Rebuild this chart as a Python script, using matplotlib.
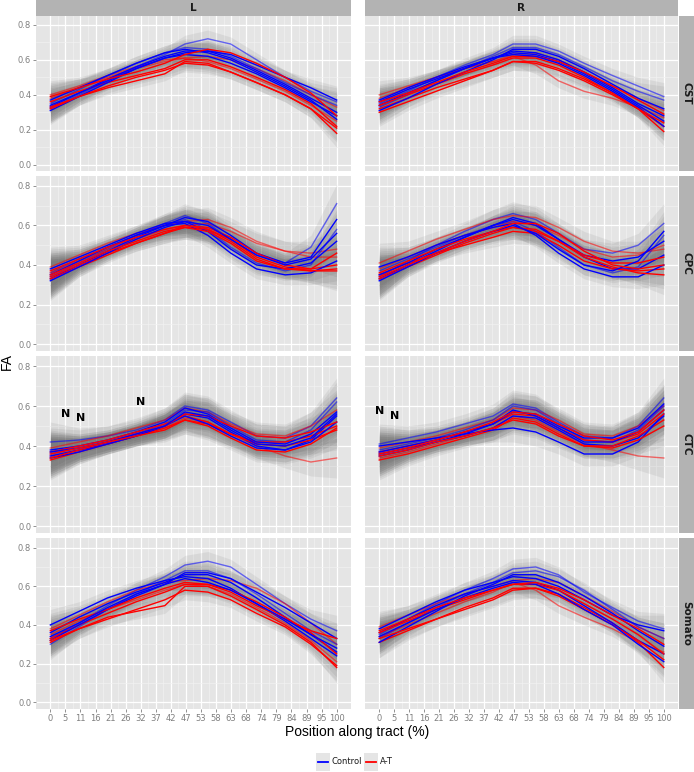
import numpy as np
import matplotlib
matplotlib.use('Agg')
import matplotlib.pyplot as plt
from matplotlib.lines import Line2D
from matplotlib.patches import Rectangle

# -- positions along the tract where each subject curve is read
XS = [0, 10, 20, 30, 40, 47, 55, 63, 72, 82, 91, 100]

XTICKS = [0, 5.26, 10.53, 15.79, 21.05, 26.32, 31.58, 36.84, 42.11, 47.37,
          52.63, 57.89, 63.16, 68.42, 73.68, 78.95, 84.21, 89.47, 94.74, 100]
XTICK_LABELS = ['0', '5', '11', '16', '21', '26', '32', '37', '42', '47',
                '53', '58', '63', '68', '74', '79', '84', '89', '95', '100']
YTICKS = [0.0, 0.2, 0.4, 0.6, 0.8]

TRACTS = ['CST', 'CPC', 'CTC', 'Somato']
SIDES = ['L', 'R']
GROUPS = ['Control', 'A-T']

# -- FA curves, one list per subject
CST_L_CONTROL = [
    [0.32, 0.40, 0.48, 0.56, 0.63, 0.69, 0.72, 0.69, 0.60, 0.50, 0.42, 0.36],
    [0.35, 0.43, 0.51, 0.58, 0.64, 0.67, 0.66, 0.62, 0.55, 0.47, 0.40, 0.34],
    [0.33, 0.41, 0.49, 0.56, 0.62, 0.65, 0.65, 0.61, 0.54, 0.46, 0.38, 0.30],
    [0.37, 0.44, 0.51, 0.58, 0.64, 0.66, 0.64, 0.60, 0.53, 0.45, 0.37, 0.26],
    [0.31, 0.39, 0.47, 0.55, 0.61, 0.64, 0.65, 0.63, 0.57, 0.50, 0.44, 0.37],
    [0.34, 0.41, 0.48, 0.55, 0.61, 0.63, 0.62, 0.58, 0.52, 0.44, 0.36, 0.28],
]
CST_L_AT = [
    [0.40, 0.45, 0.51, 0.56, 0.60, 0.61, 0.62, 0.60, 0.55, 0.48, 0.40, 0.33],
    [0.38, 0.44, 0.50, 0.55, 0.59, 0.61, 0.59, 0.55, 0.49, 0.42, 0.34, 0.25],
    [0.33, 0.39, 0.44, 0.48, 0.52, 0.59, 0.58, 0.53, 0.47, 0.40, 0.32, 0.21],
    [0.36, 0.42, 0.47, 0.51, 0.55, 0.60, 0.60, 0.56, 0.50, 0.43, 0.35, 0.22],
    [0.32, 0.39, 0.45, 0.50, 0.54, 0.58, 0.57, 0.53, 0.47, 0.40, 0.32, 0.18],
    [0.39, 0.44, 0.49, 0.53, 0.58, 0.63, 0.66, 0.64, 0.58, 0.50, 0.41, 0.28],
]
CST_R_CONTROL = [
    [0.35, 0.42, 0.50, 0.57, 0.63, 0.69, 0.69, 0.65, 0.58, 0.51, 0.45, 0.39],
    [0.33, 0.40, 0.48, 0.55, 0.62, 0.67, 0.67, 0.63, 0.56, 0.48, 0.42, 0.37],
    [0.34, 0.41, 0.48, 0.55, 0.61, 0.65, 0.64, 0.60, 0.53, 0.44, 0.35, 0.28],
    [0.36, 0.43, 0.49, 0.55, 0.61, 0.64, 0.63, 0.59, 0.52, 0.43, 0.34, 0.25],
    [0.31, 0.38, 0.46, 0.53, 0.60, 0.66, 0.66, 0.62, 0.55, 0.46, 0.38, 0.32],
    [0.37, 0.44, 0.50, 0.56, 0.61, 0.63, 0.62, 0.58, 0.51, 0.42, 0.33, 0.22],
]
CST_R_AT = [
    [0.40, 0.45, 0.50, 0.55, 0.59, 0.62, 0.57, 0.48, 0.42, 0.38, 0.33, 0.27],
    [0.38, 0.44, 0.50, 0.55, 0.59, 0.63, 0.64, 0.60, 0.53, 0.45, 0.38, 0.31],
    [0.32, 0.38, 0.44, 0.49, 0.54, 0.59, 0.59, 0.55, 0.49, 0.41, 0.32, 0.22],
    [0.34, 0.40, 0.46, 0.52, 0.57, 0.61, 0.61, 0.57, 0.50, 0.41, 0.32, 0.19],
    [0.36, 0.41, 0.47, 0.53, 0.58, 0.62, 0.62, 0.59, 0.53, 0.45, 0.37, 0.29],
    [0.30, 0.36, 0.42, 0.48, 0.54, 0.59, 0.58, 0.54, 0.48, 0.40, 0.32, 0.24],
]
CPC_L_CONTROL = [
    [0.34, 0.41, 0.48, 0.55, 0.61, 0.65, 0.61, 0.53, 0.45, 0.41, 0.49, 0.71],
    [0.36, 0.43, 0.49, 0.55, 0.60, 0.63, 0.58, 0.49, 0.41, 0.37, 0.40, 0.58],
    [0.33, 0.40, 0.47, 0.54, 0.60, 0.64, 0.62, 0.55, 0.46, 0.41, 0.44, 0.63],
    [0.38, 0.44, 0.50, 0.56, 0.61, 0.62, 0.57, 0.48, 0.40, 0.38, 0.41, 0.52],
    [0.35, 0.42, 0.49, 0.55, 0.60, 0.61, 0.55, 0.46, 0.38, 0.35, 0.36, 0.42],
    [0.32, 0.39, 0.46, 0.53, 0.59, 0.62, 0.60, 0.53, 0.45, 0.40, 0.43, 0.56],
]
CPC_L_AT = [
    [0.39, 0.45, 0.51, 0.56, 0.60, 0.62, 0.63, 0.59, 0.52, 0.47, 0.46, 0.48],
    [0.36, 0.42, 0.48, 0.53, 0.58, 0.60, 0.61, 0.57, 0.51, 0.47, 0.44, 0.44],
    [0.34, 0.40, 0.46, 0.51, 0.56, 0.59, 0.58, 0.53, 0.44, 0.39, 0.37, 0.37],
    [0.33, 0.39, 0.45, 0.51, 0.56, 0.60, 0.59, 0.54, 0.46, 0.40, 0.38, 0.40],
    [0.37, 0.43, 0.49, 0.54, 0.58, 0.60, 0.58, 0.52, 0.43, 0.38, 0.38, 0.46],
    [0.35, 0.41, 0.47, 0.52, 0.57, 0.59, 0.57, 0.51, 0.42, 0.38, 0.37, 0.38],
]
CPC_R_CONTROL = [
    [0.34, 0.42, 0.50, 0.57, 0.63, 0.66, 0.63, 0.56, 0.48, 0.46, 0.50, 0.61],
    [0.37, 0.43, 0.49, 0.55, 0.60, 0.62, 0.57, 0.49, 0.40, 0.36, 0.39, 0.55],
    [0.33, 0.40, 0.47, 0.54, 0.60, 0.64, 0.61, 0.53, 0.44, 0.38, 0.38, 0.45],
    [0.39, 0.44, 0.50, 0.55, 0.59, 0.61, 0.55, 0.46, 0.38, 0.34, 0.34, 0.40],
    [0.35, 0.41, 0.48, 0.54, 0.60, 0.63, 0.60, 0.53, 0.45, 0.42, 0.44, 0.52],
    [0.32, 0.39, 0.46, 0.52, 0.57, 0.60, 0.56, 0.48, 0.40, 0.37, 0.42, 0.57],
]
CPC_R_AT = [
    [0.41, 0.47, 0.53, 0.58, 0.63, 0.65, 0.64, 0.59, 0.52, 0.47, 0.46, 0.48],
    [0.38, 0.44, 0.50, 0.55, 0.59, 0.62, 0.60, 0.55, 0.48, 0.44, 0.45, 0.50],
    [0.35, 0.41, 0.46, 0.50, 0.54, 0.57, 0.56, 0.50, 0.42, 0.38, 0.37, 0.38],
    [0.33, 0.39, 0.45, 0.51, 0.56, 0.59, 0.58, 0.52, 0.44, 0.39, 0.36, 0.35],
    [0.36, 0.42, 0.48, 0.53, 0.57, 0.59, 0.57, 0.52, 0.45, 0.41, 0.41, 0.44],
    [0.34, 0.40, 0.46, 0.52, 0.57, 0.61, 0.61, 0.56, 0.47, 0.40, 0.38, 0.40],
]
CTC_L_CONTROL = [
    [0.42, 0.43, 0.45, 0.48, 0.53, 0.60, 0.58, 0.52, 0.45, 0.44, 0.50, 0.64],
    [0.36, 0.39, 0.42, 0.46, 0.51, 0.58, 0.57, 0.50, 0.43, 0.42, 0.48, 0.62],
    [0.35, 0.38, 0.41, 0.45, 0.50, 0.56, 0.54, 0.47, 0.40, 0.38, 0.43, 0.55],
    [0.38, 0.40, 0.43, 0.47, 0.52, 0.59, 0.56, 0.49, 0.42, 0.41, 0.46, 0.57],
    [0.34, 0.37, 0.41, 0.45, 0.50, 0.55, 0.51, 0.45, 0.39, 0.38, 0.42, 0.52],
    [0.37, 0.39, 0.42, 0.46, 0.50, 0.57, 0.55, 0.48, 0.41, 0.40, 0.44, 0.56],
]
CTC_L_AT = [
    [0.39, 0.42, 0.45, 0.49, 0.53, 0.59, 0.57, 0.51, 0.46, 0.45, 0.50, 0.58],
    [0.35, 0.38, 0.41, 0.45, 0.49, 0.54, 0.52, 0.46, 0.40, 0.35, 0.32, 0.34],
    [0.33, 0.37, 0.41, 0.45, 0.49, 0.53, 0.51, 0.46, 0.42, 0.42, 0.45, 0.50],
    [0.37, 0.40, 0.43, 0.47, 0.51, 0.55, 0.52, 0.46, 0.41, 0.40, 0.43, 0.48],
    [0.34, 0.38, 0.42, 0.46, 0.50, 0.56, 0.55, 0.50, 0.45, 0.44, 0.47, 0.52],
    [0.36, 0.39, 0.42, 0.45, 0.48, 0.53, 0.50, 0.44, 0.38, 0.37, 0.41, 0.49],
]
CTC_R_CONTROL = [
    [0.41, 0.44, 0.47, 0.51, 0.55, 0.61, 0.59, 0.52, 0.45, 0.44, 0.50, 0.64],
    [0.38, 0.41, 0.44, 0.48, 0.53, 0.60, 0.58, 0.51, 0.43, 0.42, 0.48, 0.60],
    [0.36, 0.39, 0.42, 0.45, 0.49, 0.55, 0.54, 0.48, 0.41, 0.40, 0.44, 0.55],
    [0.40, 0.42, 0.44, 0.46, 0.48, 0.49, 0.47, 0.42, 0.36, 0.36, 0.42, 0.56],
    [0.35, 0.38, 0.42, 0.46, 0.51, 0.58, 0.55, 0.49, 0.42, 0.42, 0.47, 0.58],
    [0.37, 0.40, 0.43, 0.47, 0.51, 0.57, 0.56, 0.50, 0.44, 0.44, 0.49, 0.61],
]
CTC_R_AT = [
    [0.39, 0.42, 0.45, 0.49, 0.53, 0.59, 0.58, 0.53, 0.46, 0.45, 0.50, 0.60],
    [0.34, 0.37, 0.41, 0.45, 0.49, 0.55, 0.53, 0.47, 0.41, 0.38, 0.35, 0.34],
    [0.33, 0.36, 0.40, 0.44, 0.48, 0.54, 0.52, 0.46, 0.40, 0.40, 0.45, 0.53],
    [0.37, 0.40, 0.43, 0.47, 0.51, 0.56, 0.55, 0.49, 0.43, 0.42, 0.46, 0.56],
    [0.35, 0.38, 0.42, 0.45, 0.49, 0.53, 0.51, 0.45, 0.40, 0.39, 0.43, 0.50],
    [0.36, 0.39, 0.43, 0.47, 0.52, 0.57, 0.56, 0.51, 0.45, 0.43, 0.47, 0.58],
]
SOMATO_L_CONTROL = [
    [0.33, 0.41, 0.50, 0.58, 0.65, 0.71, 0.73, 0.70, 0.61, 0.51, 0.43, 0.37],
    [0.30, 0.39, 0.48, 0.56, 0.63, 0.68, 0.68, 0.64, 0.56, 0.46, 0.37, 0.30],
    [0.36, 0.44, 0.51, 0.57, 0.62, 0.66, 0.66, 0.62, 0.54, 0.44, 0.35, 0.26],
    [0.40, 0.47, 0.54, 0.59, 0.63, 0.65, 0.64, 0.59, 0.51, 0.42, 0.33, 0.24],
    [0.32, 0.40, 0.48, 0.55, 0.61, 0.67, 0.67, 0.64, 0.57, 0.49, 0.41, 0.33],
    [0.34, 0.41, 0.49, 0.56, 0.61, 0.64, 0.62, 0.58, 0.51, 0.43, 0.35, 0.28],
]
SOMATO_L_AT = [
    [0.38, 0.45, 0.52, 0.58, 0.62, 0.63, 0.64, 0.63, 0.59, 0.51, 0.41, 0.30],
    [0.35, 0.42, 0.48, 0.53, 0.58, 0.61, 0.60, 0.56, 0.49, 0.41, 0.32, 0.21],
    [0.31, 0.38, 0.44, 0.47, 0.50, 0.60, 0.60, 0.55, 0.48, 0.40, 0.31, 0.18],
    [0.33, 0.40, 0.46, 0.52, 0.57, 0.61, 0.61, 0.58, 0.52, 0.44, 0.36, 0.25],
    [0.37, 0.43, 0.48, 0.54, 0.59, 0.62, 0.61, 0.57, 0.50, 0.43, 0.37, 0.33],
    [0.32, 0.38, 0.43, 0.48, 0.53, 0.58, 0.57, 0.53, 0.46, 0.39, 0.30, 0.19],
]
SOMATO_R_CONTROL = [
    [0.35, 0.43, 0.51, 0.58, 0.64, 0.69, 0.70, 0.66, 0.57, 0.49, 0.42, 0.38],
    [0.33, 0.41, 0.49, 0.56, 0.62, 0.67, 0.68, 0.65, 0.58, 0.48, 0.39, 0.33],
    [0.38, 0.45, 0.52, 0.58, 0.62, 0.65, 0.64, 0.60, 0.53, 0.45, 0.40, 0.37],
    [0.36, 0.43, 0.50, 0.56, 0.60, 0.63, 0.62, 0.58, 0.50, 0.41, 0.32, 0.25],
    [0.31, 0.39, 0.47, 0.55, 0.61, 0.66, 0.66, 0.62, 0.55, 0.46, 0.37, 0.29],
    [0.34, 0.41, 0.48, 0.54, 0.59, 0.62, 0.61, 0.56, 0.48, 0.40, 0.30, 0.21],
]
SOMATO_R_AT = [
    [0.39, 0.45, 0.51, 0.56, 0.60, 0.63, 0.64, 0.62, 0.55, 0.47, 0.39, 0.33],
    [0.34, 0.40, 0.46, 0.52, 0.57, 0.62, 0.58, 0.50, 0.44, 0.38, 0.31, 0.26],
    [0.31, 0.37, 0.43, 0.49, 0.54, 0.59, 0.59, 0.56, 0.49, 0.41, 0.31, 0.18],
    [0.36, 0.42, 0.48, 0.53, 0.58, 0.61, 0.61, 0.58, 0.51, 0.43, 0.35, 0.25],
    [0.33, 0.38, 0.43, 0.48, 0.53, 0.58, 0.59, 0.55, 0.48, 0.40, 0.32, 0.22],
    [0.37, 0.43, 0.49, 0.54, 0.58, 0.61, 0.62, 0.59, 0.53, 0.45, 0.38, 0.30],
]

# -- half width of the grey confidence ribbon around each curve
CST_SE = [0.08, 0.05, 0.04, 0.04, 0.04, 0.05, 0.05, 0.04, 0.04, 0.04, 0.05, 0.08]
CPC_SE = [0.10, 0.05, 0.04, 0.04, 0.05, 0.06, 0.06, 0.05, 0.05, 0.05, 0.06, 0.10]
CTC_SE = [0.10, 0.06, 0.05, 0.05, 0.06, 0.07, 0.07, 0.06, 0.06, 0.06, 0.07, 0.10]
SOMATO_SE = [0.08, 0.05, 0.04, 0.04, 0.04, 0.05, 0.05, 0.04, 0.04, 0.04, 0.05, 0.08]

CURVES = {
    ('CST', 'L'): (CST_L_CONTROL, CST_L_AT), ('CST', 'R'): (CST_R_CONTROL, CST_R_AT),
    ('CPC', 'L'): (CPC_L_CONTROL, CPC_L_AT), ('CPC', 'R'): (CPC_R_CONTROL, CPC_R_AT),
    ('CTC', 'L'): (CTC_L_CONTROL, CTC_L_AT), ('CTC', 'R'): (CTC_R_CONTROL, CTC_R_AT),
    ('Somato', 'L'): (SOMATO_L_CONTROL, SOMATO_L_AT), ('Somato', 'R'): (SOMATO_R_CONTROL, SOMATO_R_AT),
}
SE = {'CST': CST_SE, 'CPC': CPC_SE, 'CTC': CTC_SE, 'Somato': SOMATO_SE}

# -- "N" marks in CTC panels: (position, FA)
N_MARKS = {
    ('CTC', 'L'): [(5.26, 0.56), (10.53, 0.54), (31.58, 0.62)],
    ('CTC', 'R'): [(0.0, 0.575), (5.26, 0.55)],
}

COLORS = {'Control': '#0000FF', 'A-T': '#FF0000'}

# -- layout, in pixels of the 694x772 output
W, H = 694, 772
COLS = [(36, 351), (365, 678)]
ROWS = [(16, 171), (176, 351), (356, 533), (538, 709)]
STRIP_GREY = '#B3B3B3'


def fig_box(x0, y0, x1, y1):
    return [x0 / W, 1 - y1 / H, (x1 - x0) / W, (y1 - y0) / H]


def strip(fig, rect, label, rotation=0):
    sax = fig.add_axes(fig_box(*rect))
    sax.set_facecolor(STRIP_GREY)
    sax.set_xticks([])
    sax.set_yticks([])
    for sp in sax.spines.values():
        sp.set_visible(False)
    sax.text(0.5, 0.5, label, ha='center', va='center', rotation=rotation,
             fontsize=7.5, fontweight='bold', color='#1a1a1a', transform=sax.transAxes)


fig = plt.figure(figsize=(W / 100, H / 100), dpi=100)
fig.patch.set_facecolor('white')

xminor = [(a + b) / 2 for a, b in zip(XTICKS[:-1], XTICKS[1:])]
yminor = [0.1, 0.3, 0.5, 0.7]

for r, tract in enumerate(TRACTS):
    for c, side in enumerate(SIDES):
        x0, x1 = COLS[c]
        y0, y1 = ROWS[r]
        ax = fig.add_axes(fig_box(x0, y0, x1, y1))
        ax.set_facecolor('#E5E5E5')
        ax.set_xlim(-5, 105)
        ax.set_ylim(-0.035, 0.85)
        ax.set_xticks(XTICKS)
        ax.set_xticklabels(XTICK_LABELS)
        ax.set_xticks(xminor, minor=True)
        ax.set_yticks(YTICKS)
        ax.set_yticklabels(['0.0', '0.2', '0.4', '0.6', '0.8'])
        ax.set_yticks(yminor, minor=True)
        ax.grid(which='major', color='white', lw=0.9)
        ax.grid(which='minor', color='#F2F2F2', lw=0.45)
        ax.set_axisbelow(True)
        for sp in ax.spines.values():
            sp.set_visible(False)
        ax.tick_params(which='minor', length=0)
        ax.tick_params(which='major', length=2, width=0.6, color='#808080',
                       labelsize=6, labelcolor='#7F7F7F', pad=1.5)
        if r < len(TRACTS) - 1:
            ax.tick_params(axis='x', which='major', length=0, labelbottom=False)
        if c > 0:
            ax.tick_params(axis='y', which='major', length=0, labelleft=False)

        control, at = CURVES[(tract, side)]
        se = np.array(SE[tract])
        # -- grey confidence ribbons under the subject lines
        for k in range(len(control)):
            for curves in (control, at):
                y = np.array(curves[k])
                ax.fill_between(XS, y - se, y + se, color='#4d4d4d', alpha=0.085,
                                lw=0, zorder=2)
        # -- interleave the two groups so neither sits fully on top
        for k in range(len(control)):
            for grp, curves in zip(GROUPS, (control, at)):
                ax.plot(XS, curves[k], color=COLORS[grp], lw=1.0,
                        alpha=0.55 if k < 2 else 1.0,
                        solid_joinstyle='round', zorder=3 + k * 0.1)

        for xn, yn in N_MARKS.get((tract, side), []):
            ax.text(xn, yn, 'N', ha='center', va='center', fontsize=8,
                    fontweight='bold', color='black', zorder=6)

        if r == 0:
            strip(fig, (x0, 0, x1, 16), side)
        if c == len(SIDES) - 1:
            strip(fig, (679, y0, 694, y1), tract, rotation=-90)

# -- axis titles
fig.text(357 / W, 1 - 732 / H, 'Position along tract (%)', ha='center', va='center',
         fontsize=10, family='Liberation Sans')
fig.text(7 / W, 1 - 362 / H, 'FA', ha='center', va='center', rotation=90,
         fontsize=10, family='Liberation Sans')

# -- legend: grey key boxes with coloured lines
lx = 316
for grp, tw in zip(GROUPS, (28, 14)):
    fig.patches.append(Rectangle((lx / W, 1 - 771 / H), 14 / W, 18 / H,
                                 transform=fig.transFigure, facecolor='#E5E5E5',
                                 edgecolor='none'))
    fig.lines.append(Line2D([(lx + 2) / W, (lx + 12) / W], [1 - 762 / H, 1 - 762 / H],
                            transform=fig.transFigure, color=COLORS[grp], lw=1.3))
    fig.text((lx + 16) / W, 1 - 762 / H, grp, ha='left', va='center', fontsize=6,
             color='#1a1a1a')
    lx += 16 + tw + 4

fig.savefig('out.png', dpi=100)
